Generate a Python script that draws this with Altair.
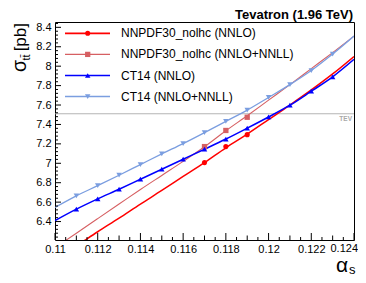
import altair as alt
import pandas as pd

# ---- data ----
alpha_line = [0.110, 0.111, 0.112, 0.113, 0.114, 0.115, 0.116, 0.117,
              0.118, 0.119, 0.120, 0.121, 0.122, 0.123, 0.124]
nnpdf_nnlo_line = [6.01, 6.15, 6.295, 6.435, 6.58, 6.72, 6.865, 7.007,
                   7.16, 7.30, 7.45, 7.60, 7.755, 7.92, 8.10]
nnpdf_nnll_line = [6.13, 6.28, 6.43, 6.58, 6.73, 6.875, 7.02, 7.17,
                   7.335, 7.49, 7.65, 7.81, 7.975, 8.14, 8.31]
ct14_nnlo_line = [6.41, 6.528, 6.634, 6.733, 6.836, 6.939, 7.042, 7.145,
                  7.25, 7.362, 7.477, 7.598, 7.742, 7.89, 8.07]
ct14_nnll_line = [6.545, 6.664, 6.770, 6.877, 6.987, 7.097, 7.203, 7.316,
                  7.432, 7.548, 7.678, 7.81, 7.955, 8.125, 8.31]

nnpdf_alpha = [0.117, 0.118, 0.119]
nnpdf_nnlo_pts = [7.007, 7.172, 7.295]
nnpdf_nnll_pts = [7.172, 7.338, 7.474]

ct14_alpha = [0.111, 0.112, 0.113, 0.114, 0.115, 0.116, 0.117,
              0.118, 0.119, 0.120, 0.121, 0.122, 0.123]
ct14_nnlo_pts = [6.528, 6.634, 6.733, 6.836, 6.939, 7.042, 7.145,
                 7.25, 7.362, 7.477, 7.598, 7.742, 7.89]
ct14_nnll_pts = [6.664, 6.770, 6.877, 6.987, 7.097, 7.203, 7.316,
                 7.432, 7.548, 7.678, 7.81, 7.955, 8.125]

series_names = ["NNPDF30_nolhc (NNLO)", "NNPDF30_nolhc (NNLO+NNLL)",
                "CT14 (NNLO)", "CT14 (NNLO+NNLL)"]
tev_value = 7.51

x_labels = [0.110, 0.112, 0.114, 0.116, 0.118, 0.120, 0.122, 0.124]
y_labels = [6.4, 6.6, 6.8, 7.0, 7.2, 7.4, 7.6, 7.8, 8.0, 8.2, 8.4]

# ---- styling ----
W, H = 299, 218
FONT = "Liberation Sans"
colors = ["#ff0000", "#d65f62", "#0000ff", "#7b9ee0"]
widths = [1.5, 1.1, 1.5, 1.3]
shapes = ["circle", "square", "triangle-up", "triangle-down"]
sizes = [26, 28, 30, 30]

xs = alt.Scale(domain=[0.110, 0.124], nice=False, zero=False)
ys = alt.Scale(domain=[6.21, 8.455], nice=False, zero=False)
# the last x label is drawn as a text mark so it is not clipped at the edge
xaxis = alt.Axis(values=x_labels,
                 labelExpr="datum.value > 0.1235 ? '' : format(datum.value, '~g')",
                 ticks=False, domain=False, grid=False, labelPadding=3,
                 labelFontSize=11, labelFont=FONT, labelColor="black",
                 title="", labelFlush=False)
yaxis = alt.Axis(values=y_labels, labelExpr="format(datum.value, '~g')",
                 ticks=False, domain=False, grid=False, labelPadding=4,
                 labelFontSize=11, labelFont=FONT, labelColor="black",
                 title="")


def X(field):
    return alt.X(field, type="quantitative", scale=xs, axis=xaxis)


def Y(field):
    return alt.Y(field, type="quantitative", scale=ys, axis=yaxis)


layers = []

# TEV reference line
layers.append(alt.Chart(pd.DataFrame({"v": [tev_value]})).mark_rule(
    color="#b4b4b4", strokeWidth=1).encode(y=Y("v")))
layers.append(alt.Chart(pd.DataFrame({"v": [tev_value]})).mark_text(
    text="TEV", align="right", baseline="top", dy=2, fontSize=6.5,
    font=FONT, fontWeight="bold", color="#a8a8a8").encode(
    x=alt.value(297), y=Y("v")))

line_sets = [nnpdf_nnlo_line, nnpdf_nnll_line, ct14_nnlo_line, ct14_nnll_line]
pt_sets = [(nnpdf_alpha, nnpdf_nnlo_pts), (nnpdf_alpha, nnpdf_nnll_pts),
           (ct14_alpha, ct14_nnlo_pts), (ct14_alpha, ct14_nnll_pts)]

for i in range(4):
    df = pd.DataFrame({"a": alpha_line, "s": line_sets[i]})
    layers.append(alt.Chart(df).mark_line(
        color=colors[i], strokeWidth=widths[i], clip=True,
        interpolate="monotone").encode(x=X("a"), y=Y("s")))
for i in range(4):
    a, s = pt_sets[i]
    df = pd.DataFrame({"a": a, "s": s})
    layers.append(alt.Chart(df).mark_point(
        shape=shapes[i], filled=True, opacity=1, color=colors[i],
        size=sizes[i], clip=True).encode(x=X("a"), y=Y("s")))

# inside ticks (ROOT style)
x_major = x_labels
x_mid = [0.111, 0.113, 0.115, 0.117, 0.119, 0.121, 0.123]
x_minor = [round(0.1105 + 0.001 * k, 4) for k in range(14)]
for vals, ln in [(x_major, 7), (x_mid, 4.5), (x_minor, 3)]:
    layers.append(alt.Chart(pd.DataFrame({"v": vals})).mark_rule(
        color="black", strokeWidth=1).encode(
        x=X("v"), y=alt.value(H), y2=alt.value(H - ln)))
y_minor = [round(6.24 + 0.04 * k, 2) for k in range(56)]
y_minor = [v for v in y_minor if all(abs(v - m) > 1e-6 for m in y_labels)]
for vals, ln in [(y_labels, 6), (y_minor, 3)]:
    layers.append(alt.Chart(pd.DataFrame({"v": vals})).mark_rule(
        color="black", strokeWidth=1).encode(
        y=Y("v"), x=alt.value(0), x2=alt.value(ln)))

# legend
row_y = [11.3, 32.4, 53.5, 74.6]
for i in range(4):
    d = pd.DataFrame({"n": [series_names[i]]})
    layers.append(alt.Chart(d).mark_rule(
        color=colors[i], strokeWidth=widths[i] + 0.2).encode(
        x=alt.value(10), x2=alt.value(55), y=alt.value(row_y[i])))
    layers.append(alt.Chart(d).mark_point(
        shape=shapes[i], filled=True, opacity=1, color=colors[i],
        size=sizes[i]).encode(x=alt.value(32.7), y=alt.value(row_y[i])))
    layers.append(alt.Chart(d).mark_text(
        align="left", baseline="middle", fontSize=12, font=FONT,
        color="black").encode(x=alt.value(66), y=alt.value(row_y[i]),
                              text="n:N"))

# titles
def label(txt, x, y, size, align="left", angle=0, weight="normal",
          baseline="alphabetic"):
    kw = dict(text=txt, align=align, fontSize=size, font=FONT,
              color="black", baseline=baseline, fontWeight=weight)
    if angle:
        kw["angle"] = angle
    return alt.Chart(pd.DataFrame({"t": [txt]})).mark_text(**kw).encode(
        x=alt.value(x), y=alt.value(y))

layers.append(label("0.124", 303, H + 3, 11, align="right", baseline="top"))
layers.append(label("Tevatron (1.96 TeV)", 298, -3.5, 13, align="right",
                    weight="bold"))
layers.append(label("σ", -29, 50, 19.5, align="left", angle=270))
layers.append(label("tt̄", -25.5, 38.5, 11, align="left", angle=270))
layers.append(label("[pb]", -29.5, 1, 17, align="right", angle=270))
layers.append(label("α", 281, 250, 21))
layers.append(label("s", 294, 252, 13))

chart = alt.layer(*layers).properties(
    width=W, height=H,
    padding={"left": 47, "top": 14, "right": 4, "bottom": 36},
    autosize=alt.AutoSizeParams(type="none"),
).configure_view(stroke="black", strokeWidth=1)

chart.save("out.html", embed_options={"renderer": "svg", "actions": False})
